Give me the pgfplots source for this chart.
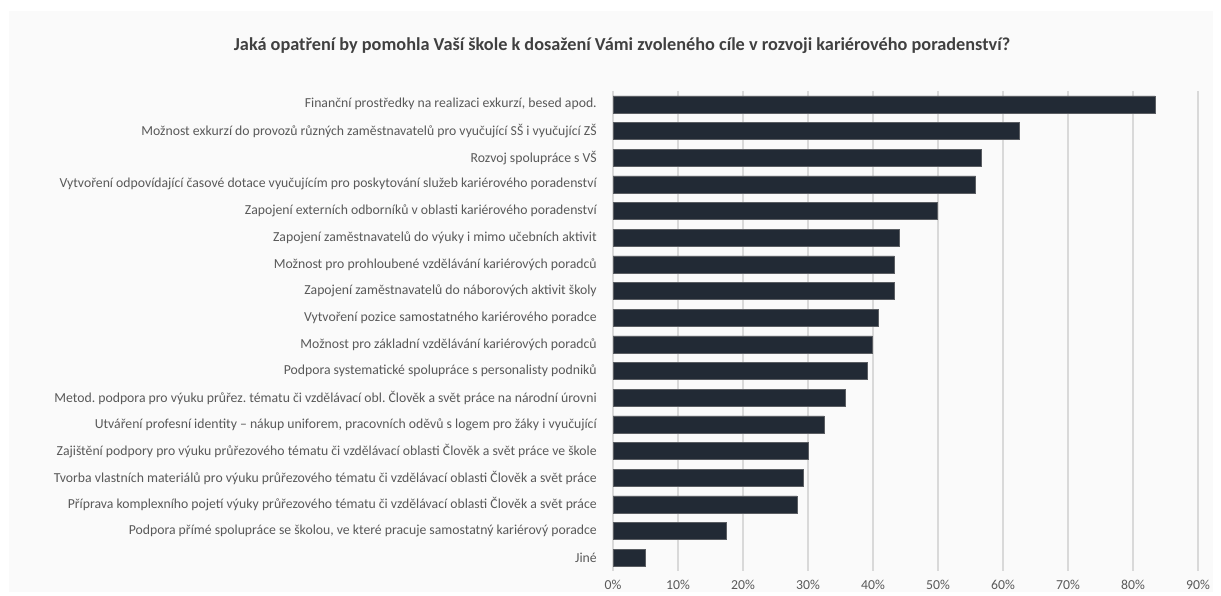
\documentclass[border=0pt]{standalone}
\usepackage{pgfplots}
\pgfplotsset{compat=1.18}
\usepackage{fontspec}
\setmainfont{Carlito}
\frenchspacing
\definecolor{barc}{RGB}{34,42,53}
\definecolor{txt}{RGB}{89,89,89}
\definecolor{ttl}{RGB}{64,64,64}
\definecolor{panel}{RGB}{250,250,250}
\definecolor{gridc}{RGB}{217,217,217}
\begin{document}
\begin{tikzpicture}[x=0.75pt,y=0.75pt]
\fill[white] (0,0) rectangle (1221,596);
\fill[panel] (9,4) rectangle (1213,585);
\node[font=\fontsize{13.7}{16}\selectfont\bfseries, text=ttl] at (622,550) {Jaká opatření by pomohla Vaší škole k dosažení Vámi zvoleného cíle v rozvoji kariérového poradenství?};
\begin{axis}[
  at={(459.75pt,18.75pt)}, anchor=south west,
  scale only axis, width=438.75pt, height=360pt,
  xbar, bar width=12.75pt,
  xmin=0, xmax=90, ymin=-0.5, ymax=17.5, y dir=reverse,
  xtick={0,10,...,90},
  xticklabels={0\%,10\%,20\%,30\%,40\%,50\%,60\%,70\%,80\%,90\%},
  ytick={0,...,17},
  yticklabels={
    {Finanční prostředky na realizaci exkurzí, besed apod.},
    {Možnost exkurzí do provozů různých zaměstnavatelů pro vyučující SŠ i vyučující ZŠ},
    {Rozvoj spolupráce s VŠ},
    {Vytvoření odpovídající časové dotace vyučujícím pro poskytování služeb kariérového poradenství},
    {Zapojení externích odborníků v oblasti kariérového poradenství},
    {Zapojení zaměstnavatelů do výuky i mimo učebních aktivit},
    {Možnost pro prohloubené vzdělávání kariérových poradců},
    {Zapojení zaměstnavatelů do náborových aktivit školy},
    {Vytvoření pozice samostatného kariérového poradce},
    {Možnost pro základní vzdělávání kariérových poradců},
    {Podpora systematické spolupráce s personalisty podniků},
    {Metod. podpora pro výuku průřez. tématu či vzdělávací obl. Člověk a svět práce na národní úrovni},
    {Utváření profesní identity – nákup uniforem, pracovních oděvů s logem pro žáky i vyučující},
    {Zajištění podpory pro výuku průřezového tématu či vzdělávací oblasti Člověk a svět práce ve škole},
    {Tvorba vlastních materiálů pro výuku průřezového tématu či vzdělávací oblasti Člověk a svět práce},
    {Příprava komplexního pojetí výuky průřezového tématu či vzdělávací oblasti Člověk a svět práce},
    {Podpora přímé spolupráce se školou, ve které pracuje samostatný kariérový poradce},
    {Jiné}},
  axis line style={draw=none},
  major tick length=0pt,
  xmajorgrids, grid style={gridc, line width=0.8pt},
  tick label style={text=txt, font=\fontsize{10.3}{12}\selectfont},
  yticklabel style={inner sep=0pt, xshift=-12pt},
  xticklabel style={inner sep=0pt, yshift=-7pt},
  /pgf/number format/assume math mode=true,
]
\addplot[fill=barc, draw=gray!60!barc, line width=0.4pt] coordinates {
(83.4,0) (62.5,1) (56.7,2) (55.8,3) (49.9,4) (44.1,5) (43.3,6) (43.3,7) (40.8,8)
(39.9,9) (39.1,10) (35.7,11) (32.5,12) (30.0,13) (29.2,14) (28.3,15) (17.4,16) (4.9,17)};
\end{axis}
\end{tikzpicture}
\end{document}
